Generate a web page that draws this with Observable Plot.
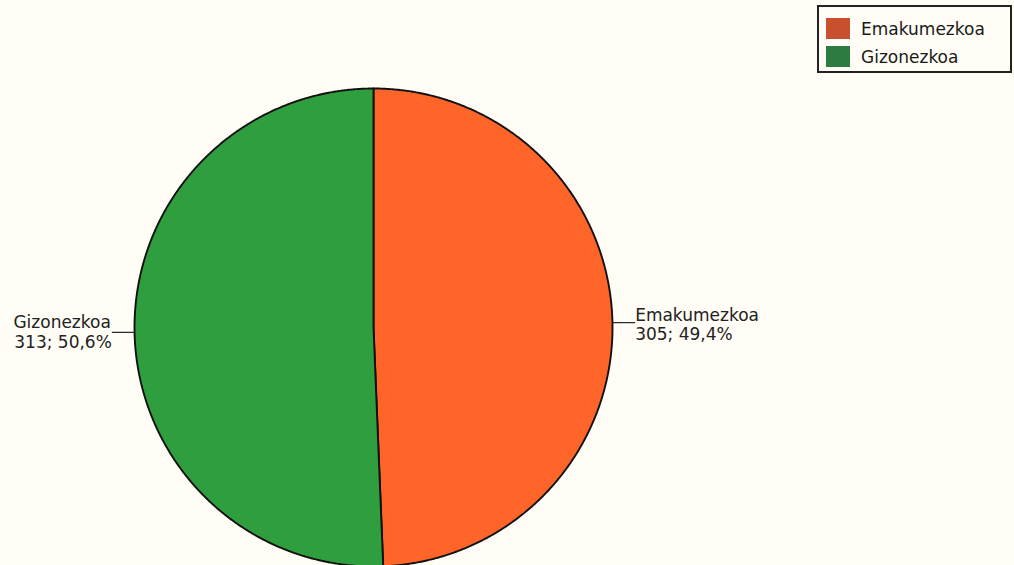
<!DOCTYPE html>
<html>
<head>
<meta charset="utf-8">
<script src="https://cdn.jsdelivr.net/npm/d3@7"></script>
<script src="https://cdn.jsdelivr.net/npm/@observablehq/plot@0.6"></script>
<style>
  html, body { margin: 0; padding: 0; background: #fffdf5; }
  #wrap { position: relative; width: 1014px; height: 565px; overflow: hidden; font-family: "DejaVu Sans", sans-serif; }
  #legend { position: absolute; left: 817px; top: 5px; width: 191px; height: 64px; border: 2px solid #222; background: #fffdf5; box-sizing: content-box; }
  .row { position: absolute; left: 7px; display: flex; align-items: center; font-size: 17px; color: #1a1a1a; }
  .sw { width: 24px; height: 21px; margin-right: 11px; }
</style>
</head>
<body>
<div id="wrap"></div>
<script>
// ---- data ----
const categories = ["Emakumezkoa", "Gizonezkoa"];
const counts = [305, 313];
const percentLabels = ["49,4%", "50,6%"];
const sliceColors = ["#ff6428", "#2f9e3f"];
const legendColors = ["#c8502f", "#2b7c3e"];

// ---- layout ----
const W = 1014, H = 565, cx = 373, cy = 327, R = 239;

const rows = categories.map((name, i) => ({name, count: counts[i], pct: percentLabels[i]}));
const arcs = d3.pie().sort(null).value(d => d.count).startAngle(0).endAngle(2 * Math.PI)(rows);

// polygon outline for each slice (unit circle, angle clockwise from top)
const pts = [];
for (const a of arcs) {
  const n = Math.max(8, Math.ceil((a.endAngle - a.startAngle) / 0.005));
  pts.push({name: a.data.name, x: 0, y: 0});
  for (let k = 0; k <= n; k++) {
    const t = a.startAngle + (a.endAngle - a.startAngle) * k / n;
    pts.push({name: a.data.name, x: Math.sin(t), y: Math.cos(t)});
  }
  pts.push({name: a.data.name, x: 0, y: 0});
}

const lead = 0.095;
const labels = arcs.map(a => {
  const m = (a.startAngle + a.endAngle) / 2;
  const x0 = Math.sin(m), y0 = Math.cos(m);
  const side = x0 >= 0 ? 1 : -1;
  return {name: a.data.name, sub: `${a.data.count}; ${a.data.pct}`, x0, y0, x1: x0 + side * lead, side};
});
const rightLabels = labels.filter(d => d.side > 0);
const leftLabels = labels.filter(d => d.side < 0);

const chart = Plot.plot({
  width: W, height: H, margin: 0,
  x: {domain: [-cx / R, (W - cx) / R], axis: null},
  y: {domain: [-(H - cy) / R, cy / R], axis: null},
  color: {domain: categories, range: sliceColors},
  style: {background: "transparent", fontFamily: "DejaVu Sans, sans-serif", fontSize: "17px", color: "#1a1a1a"},
  marks: [
    Plot.line(pts, {x: "x", y: "y", z: "name", fill: "name", stroke: "#111", strokeWidth: 1.9, curve: "linear"}),
    Plot.link(labels, {x1: "x0", y1: "y0", x2: "x1", y2: "y0", stroke: "#222", strokeWidth: 1.2}),
    Plot.text(rightLabels, {x: "x1", y: "y0", text: "name", textAnchor: "start", lineAnchor: "bottom", dy: -2, fill: "#222"}),
    Plot.text(rightLabels, {x: "x1", y: "y0", text: "sub", textAnchor: "start", lineAnchor: "bottom", dy: 17, fill: "#222"}),
    Plot.text(leftLabels, {x: "x1", y: "y0", text: "name", textAnchor: "end", lineAnchor: "bottom", dx: -1, dy: -4, fill: "#222"}),
    Plot.text(leftLabels, {x: "x1", y: "y0", text: "sub", textAnchor: "end", lineAnchor: "bottom", dy: 16, fill: "#222"})
  ]
});

const wrap = document.getElementById("wrap");
wrap.appendChild(chart);

const legend = document.createElement("div");
legend.id = "legend";
categories.forEach((c, i) => {
  const r = document.createElement("div");
  r.className = "row";
  r.style.top = (i === 0 ? 11 : 39) + "px";
  const s = document.createElement("div");
  s.className = "sw";
  s.style.background = legendColors[i];
  const t = document.createElement("span");
  t.textContent = c;
  r.appendChild(s); r.appendChild(t);
  legend.appendChild(r);
});
wrap.appendChild(legend);
</script>
</body>
</html>
